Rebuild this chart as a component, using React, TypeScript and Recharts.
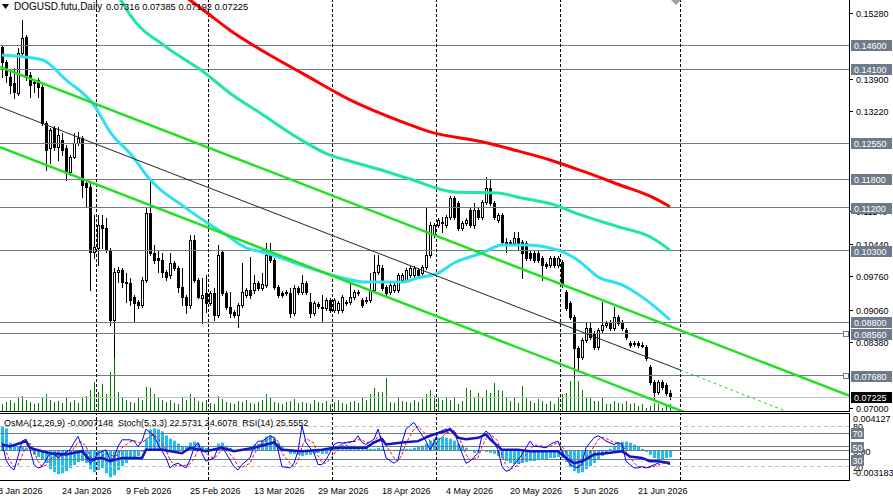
import React from 'react';
import { ComposedChart, Bar, Line, XAxis, YAxis, ReferenceLine, ReferenceDot } from 'recharts';

const FONT = '"Liberation Sans", Arial, sans-serif';
const WIDTH = 893;
const AXIS_W = 44;
const PLOT_W = WIDTH - AXIS_W;
const MAIN_H = 412;
const IND_TOP = 413;
const IND_H = 88;

const X_DOMAIN = [-0.5, 211.75];
const PRICE_DOMAIN = [0.06917, 0.15553];
const VOL_DOMAIN = [0, 412];
const OSMA_MAX = 0.004127;
const OSMA_MIN = -0.003183;
const OSMA_ZERO_PCT = ((0 - OSMA_MIN) / (OSMA_MAX - OSMA_MIN)) * 100;

// DOGUSD daily bars, 9 Jan 2026 .. 29 Jun 2026
const opens = [
  0.1457, 0.1425, 0.1394, 0.1381, 0.1360, 0.1444, 0.1478, 0.1398, 0.1383, 0.1388,
  0.1373, 0.1298, 0.1245, 0.1287, 0.1247, 0.1262, 0.1245, 0.1195, 0.1226, 0.1256,
  0.1266, 0.1172, 0.1163, 0.1027, 0.1036, 0.1084, 0.1077, 0.1031, 0.0885, 0.0985,
  0.0989, 0.0964, 0.0962, 0.0933, 0.0922, 0.0916, 0.0969, 0.1109, 0.1025, 0.1015,
  0.1010, 0.0985, 0.0979, 0.1004, 0.0994, 0.0954, 0.0933, 0.0916, 0.1052, 0.0969,
  0.0931, 0.0941, 0.0920, 0.0941, 0.0895, 0.1027, 0.0941, 0.0912, 0.0901, 0.0895,
  0.0916, 0.0937, 0.0948, 0.0948, 0.0962, 0.0952, 0.0958, 0.1021, 0.1010, 0.0954,
  0.0941, 0.0943, 0.0941, 0.0899, 0.0952, 0.0943, 0.0962, 0.0922, 0.0899, 0.0918,
  0.0912, 0.0910, 0.0927, 0.0906, 0.0906, 0.0906, 0.0920, 0.0922, 0.0933, 0.0941,
  0.0927, 0.0927, 0.0927, 0.0948, 0.0985, 0.0994, 0.0954, 0.0943, 0.0948, 0.0948,
  0.0969, 0.0969, 0.0979, 0.0979, 0.0989, 0.0983, 0.0996, 0.1021, 0.1063, 0.1084,
  0.1088, 0.1084, 0.1101, 0.1140, 0.1130, 0.1077, 0.1088, 0.1115, 0.1084, 0.1115,
  0.1101, 0.1132, 0.1161, 0.1130, 0.1094, 0.1105, 0.1048, 0.1048, 0.1046, 0.1056,
  0.1048, 0.1046, 0.1025, 0.1025, 0.1025, 0.1015, 0.1002, 0.1000, 0.1015, 0.1000,
  0.1006, 0.0943, 0.0920, 0.0891, 0.0826, 0.0807, 0.0843, 0.0868, 0.0857, 0.0828,
  0.0864, 0.0874, 0.0880, 0.0868, 0.0891, 0.0880, 0.0864, 0.0836, 0.0834, 0.0836,
  0.0832, 0.0828, 0.0786, 0.0755, 0.0734, 0.0755, 0.0748, 0.07316,
];
const highs = [
  0.1461, 0.1430, 0.1404, 0.1413, 0.1455, 0.1513, 0.1482, 0.1404, 0.1388, 0.1392,
  0.1377, 0.1302, 0.1287, 0.1291, 0.1289, 0.1277, 0.1251, 0.1230, 0.1277, 0.1279,
  0.1270, 0.1178, 0.1172, 0.1105, 0.1105, 0.1105, 0.1098, 0.1036, 0.0994, 0.0996,
  0.0994, 0.0983, 0.0973, 0.0937, 0.0927, 0.0975, 0.1119, 0.1178, 0.1042, 0.1031,
  0.1025, 0.0989, 0.1025, 0.1008, 0.0998, 0.0994, 0.0937, 0.1063, 0.1063, 0.0973,
  0.0973, 0.0979, 0.0945, 0.0952, 0.1042, 0.1031, 0.0945, 0.0943, 0.0906, 0.0920,
  0.1004, 0.0952, 0.1017, 0.0979, 0.0966, 0.0983, 0.1046, 0.1046, 0.1015, 0.0958,
  0.0945, 0.0948, 0.0952, 0.0958, 0.0956, 0.0979, 0.0966, 0.0941, 0.0924, 0.0922,
  0.0937, 0.0931, 0.0931, 0.0931, 0.0924, 0.0937, 0.0927, 0.0962, 0.0948, 0.0948,
  0.0931, 0.0933, 0.0983, 0.1021, 0.1021, 0.1000, 0.0958, 0.0962, 0.0962, 0.0983,
  0.0983, 0.0994, 0.0998, 0.0998, 0.0994, 0.1000, 0.1119, 0.1090, 0.1088, 0.1098,
  0.1101, 0.1105, 0.1145, 0.1145, 0.1134, 0.1092, 0.1098, 0.1119, 0.1130, 0.1119,
  0.1136, 0.1184, 0.1178, 0.1134, 0.1109, 0.1109, 0.1056, 0.1052, 0.1069, 0.1069,
  0.1052, 0.1050, 0.1029, 0.1029, 0.1029, 0.1019, 0.1006, 0.1019, 0.1019, 0.1019,
  0.1010, 0.0948, 0.0924, 0.0895, 0.0830, 0.0847, 0.0878, 0.0878, 0.0862, 0.0868,
  0.0922, 0.0883, 0.0885, 0.0912, 0.0895, 0.0885, 0.0868, 0.0841, 0.0841, 0.0841,
  0.0838, 0.0832, 0.0790, 0.0759, 0.0759, 0.0759, 0.0753, 0.07385,
];
const lows = [
  0.1394, 0.1383, 0.1360, 0.1350, 0.1356, 0.1440, 0.1388, 0.1352, 0.1362, 0.1352,
  0.1293, 0.1199, 0.1214, 0.1241, 0.1220, 0.1230, 0.1178, 0.1189, 0.1224, 0.1251,
  0.1142, 0.1121, 0.0948, 0.1015, 0.1000, 0.1036, 0.1027, 0.0874, 0.0807, 0.0964,
  0.0954, 0.0922, 0.0916, 0.0880, 0.0910, 0.0912, 0.0964, 0.1021, 0.1004, 0.0985,
  0.0975, 0.0969, 0.0973, 0.0989, 0.0943, 0.0916, 0.0899, 0.0910, 0.0964, 0.0931,
  0.0878, 0.0901, 0.0916, 0.0885, 0.0891, 0.0937, 0.0908, 0.0891, 0.0891, 0.0870,
  0.0912, 0.0933, 0.0931, 0.0941, 0.0948, 0.0948, 0.0954, 0.1006, 0.0950, 0.0933,
  0.0933, 0.0937, 0.0891, 0.0895, 0.0939, 0.0939, 0.0939, 0.0891, 0.0895, 0.0910,
  0.0880, 0.0906, 0.0901, 0.0901, 0.0899, 0.0901, 0.0916, 0.0918, 0.0929, 0.0937,
  0.0912, 0.0920, 0.0922, 0.0943, 0.0981, 0.0948, 0.0937, 0.0939, 0.0943, 0.0943,
  0.0964, 0.0964, 0.0975, 0.0975, 0.0975, 0.0979, 0.0992, 0.1017, 0.1059, 0.1080,
  0.1069, 0.1080, 0.1096, 0.1096, 0.1073, 0.1073, 0.1084, 0.1080, 0.1077, 0.1096,
  0.1096, 0.1128, 0.1126, 0.1096, 0.1090, 0.1044, 0.1027, 0.1042, 0.1042, 0.1031,
  0.0973, 0.1010, 0.1010, 0.1006, 0.1006, 0.0969, 0.0994, 0.0996, 0.0996, 0.0996,
  0.0954, 0.0906, 0.0887, 0.0765, 0.0780, 0.0803, 0.0838, 0.0845, 0.0824, 0.0824,
  0.0860, 0.0870, 0.0864, 0.0864, 0.0874, 0.0864, 0.0845, 0.0828, 0.0830, 0.0828,
  0.0828, 0.0801, 0.0750, 0.0717, 0.0730, 0.0740, 0.0727, 0.07192,
];
const closes = [
  0.1425, 0.1398, 0.1377, 0.1362, 0.1444, 0.1476, 0.1398, 0.1377, 0.1381, 0.1373,
  0.1298, 0.1241, 0.1283, 0.1247, 0.1272, 0.1241, 0.1195, 0.1226, 0.1256, 0.1266,
  0.1168, 0.1163, 0.1027, 0.1038, 0.1084, 0.1077, 0.1031, 0.0885, 0.0985, 0.0989,
  0.0964, 0.0962, 0.0927, 0.0920, 0.0916, 0.0969, 0.1109, 0.1025, 0.1010, 0.1010,
  0.0985, 0.0975, 0.1004, 0.0994, 0.0954, 0.0933, 0.0916, 0.1052, 0.0969, 0.0933,
  0.0937, 0.0920, 0.0941, 0.0895, 0.1021, 0.0941, 0.0912, 0.0899, 0.0895, 0.0916,
  0.0943, 0.0948, 0.0937, 0.0962, 0.0952, 0.0960, 0.1021, 0.1010, 0.0954, 0.0937,
  0.0937, 0.0941, 0.0899, 0.0952, 0.0943, 0.0962, 0.0943, 0.0899, 0.0920, 0.0914,
  0.0910, 0.0927, 0.0906, 0.0927, 0.0920, 0.0933, 0.0922, 0.0933, 0.0943, 0.0943,
  0.0916, 0.0926, 0.0948, 0.0985, 0.1000, 0.0952, 0.0941, 0.0958, 0.0958, 0.0979,
  0.0979, 0.0989, 0.0994, 0.0994, 0.0979, 0.0996, 0.1021, 0.1084, 0.1084, 0.1094,
  0.1090, 0.1101, 0.1140, 0.1101, 0.1077, 0.1088, 0.1094, 0.1084, 0.1115, 0.1101,
  0.1132, 0.1161, 0.1130, 0.1101, 0.1105, 0.1048, 0.1047, 0.1046, 0.1056, 0.1046,
  0.1025, 0.1015, 0.1015, 0.1010, 0.1010, 0.1000, 0.0998, 0.1015, 0.1000, 0.1015,
  0.0958, 0.0910, 0.0891, 0.0826, 0.0807, 0.0843, 0.0868, 0.0849, 0.0828, 0.0864,
  0.0874, 0.0878, 0.0868, 0.0891, 0.0878, 0.0868, 0.0849, 0.0832, 0.0836, 0.0832,
  0.0833, 0.0805, 0.0755, 0.0734, 0.0755, 0.0744, 0.0732, 0.07225,
];
const volumes = [
  8, 10, 12, 9, 14, 16, 12, 10, 8, 9, 14,
  18, 12, 10, 11, 9, 15, 10, 12, 9, 14, 16, 22,
  30, 20, 28, 18, 40, 54,
  20, 15, 12, 10, 9, 14, 12, 25, 24, 18, 14, 12,
  10, 12, 9, 8, 14, 12, 18, 15, 11, 10, 12, 9, 8, 16, 13, 10,
  9, 8, 11, 10, 12, 9, 8, 10, 12, 18, 14, 10, 9, 8, 10, 11, 13, 9, 10,
  9, 8, 12, 10, 9, 11, 8, 10, 12, 9, 8, 10, 11, 9, 14, 12, 18, 24, 20, 20,
  34, 10, 9, 14, 11, 10, 9, 12, 10, 13, 18, 22, 16, 14, 12, 15,
  12,
  14, 8, 11, 24, 22, 14, 19, 14, 22, 19, 29, 22, 21, 14, 11, 14, 9, 26, 14, 11,
  9, 13, 11, 8, 11, 8, 14, 18, 19, 31, 38, 31, 22, 14, 14, 11, 11, 14, 8, 8,
  11, 9, 8, 11, 8, 9, 6, 8, 4, 6, 9, 8, 4, 6, 8,
];
const osma = [
  0.00266, 0.00244, 0.00089, 0.00067, 0.00044, 0.00044, 0.00033, 0.00011, -0.00044, -0.00067,
  -0.00089, -0.00133, -0.0020, -0.00233, -0.00255, -0.00244, -0.00222, -0.00189, -0.00155, -0.00122,
  -0.00111, -0.00133, -0.0020, -0.00233, -0.00211, -0.00189, -0.00244, -0.00289, -0.00266, -0.00211,
  -0.00167, -0.00133, -0.0010, -0.00078, -0.00056, -0.00011, 0.00133, 0.00233, 0.00244, 0.00233,
  0.00211, 0.00167, 0.00133, 0.00111, 0.00078, 0.00056, 0.00044, 0.00089, 0.0010, 0.00078,
  0.00044, 0.00033, 0.00022, 0.00033, 0.00078, 0.00089, 0.00056, 0.00033, 0.00011, 0.00011,
  0.00011, 0.00022, 0.00033, 0.00067, 0.00078, 0.00111, 0.00155, 0.00167, 0.00133, 0.00089,
  0.00056, 0.00022, -0.00033, -0.00033, -0.00044, -0.00056, -0.00044, -0.00044, -0.00033, -0.00022,
  -0.00033, -0.00033, 0.00022, 0.00044, 0.00056, 0.00067, 0.00067, 0.00056, 0.00056, 0.00044,
  0.00044, 0.00033, 0.00022, 0.00022, 0.00033, 0.00022, 0.00011, 0.00011, 0.00011, 0.00011,
  0.00022, 0.00022, 0.00022, 0.00033, 0.00044, 0.00056, 0.00078, 0.00111, 0.00133, 0.00144,
  0.00155, 0.00144, 0.00133, 0.00111, 0.00078, 0.00056, 0.00033, 0.00011, -0.00022, -0.00011,
  0.00011, -0.00011, -0.00022, -0.00033, -0.00056, -0.00078, -0.00111, -0.00133, -0.00144, -0.00144,
  -0.00133, -0.00122, -0.00111, -0.00111, -0.0010, -0.0010, -0.00089, -0.00078, -0.00078, -0.00067,
  -0.00078, -0.00122, -0.00178, -0.00222, -0.00244, -0.00233, -0.0020, -0.00167, -0.00133, -0.0010,
  -0.00056, -0.00022, 0.00022, 0.00056, 0.00089, 0.0010, 0.0010, 0.00089, 0.00067, 0.00044,
  0.00022, -0.00011, -0.00044, -0.00078, -0.00089, -0.00089, -0.00078, -0.000715,
];

// moving averages, [bar, price]
const ma50 = [
  [0, 0.1440], [10, 0.1430], [16, 0.1388], [23, 0.1335], [27, 0.1279], [33, 0.1224], [36, 0.1189],
  [46, 0.1119], [56, 0.1063], [61, 0.1036], [66, 0.1025], [76, 0.0996], [85, 0.0973], [91, 0.0964],
  [100, 0.0964], [104, 0.0973], [109, 0.0983], [113, 0.1004], [120, 0.1025], [125, 0.1042], [131, 0.1042],
  [139, 0.1031], [144, 0.1010], [149, 0.0975], [155, 0.0958], [160, 0.0933], [167, 0.0885],
];
const ma100 = [
  [28, 0.1570], [30, 0.1551], [32, 0.1524], [41, 0.1457], [50, 0.1407], [57, 0.1360], [65, 0.1316],
  [74, 0.1266], [82, 0.1230], [86, 0.1220], [94, 0.1201], [102, 0.1180], [113, 0.1153], [124, 0.1151],
  [129, 0.1142], [138, 0.1126], [144, 0.1107], [154, 0.1080], [162, 0.1059], [167, 0.1031],
];
const ma200 = [
  [44, 0.1570], [47, 0.1555], [51, 0.1530], [57, 0.1492], [69, 0.1430], [75, 0.1402], [87, 0.1346],
  [100, 0.1300], [107, 0.1279], [120, 0.1258], [128, 0.1241], [137, 0.1220], [145, 0.1197],
  [155, 0.1166], [162, 0.1144], [167, 0.1122],
];

// trend channel anchors, [bar, price]
const channelUpper = [[-0.5, 0.1415], [211.75, 0.0726]];
const channelMid = [[-0.5, 0.1331], [169.5, 0.0780]];
const channelMidExt = [[169.5, 0.0780], [211.75, 0.0642]];
const channelLower = [[-0.5, 0.1247], [211.75, 0.0558]];

const levels = [0.146, 0.141, 0.1255, 0.118, 0.112, 0.103, 0.088, 0.0856, 0.0768];
const anchoredLevels = [0.0856, 0.0768];
const lastClose = 0.07225;
const priceTicks = [0.1528, 0.139, 0.1322, 0.1114, 0.1044, 0.0976, 0.0906, 0.0838, 0.07];

const monthStarts = [23.5, 51.5, 82.5, 108.5, 139.5, 169.5];
const dateTicks = [-1, 15, 31, 47, 63, 79, 95, 111, 127, 143, 159];
const dateLabels = [
  '8 Jan 2026', '24 Jan 2026', '9 Feb 2026', '25 Feb 2026', '13 Mar 2026', '29 Mar 2026',
  '18 Apr 2026', '4 May 2026', '20 May 2026', '5 Jun 2026', '21 Jun 2026',
];

// oscillators, [bar, value]
const stochMain = [
  [0, 56], [1, 30], [2, 20], [3, 15], [4, 35], [5, 58], [6, 61], [7, 45], [8, 23], [9, 18], [10, 20],
  [11, 30], [12, 40], [13, 38], [14, 33], [15, 38], [17, 45], [18, 56], [19, 65], [20, 50], [21, 33],
  [22, 25], [23, 30], [24, 40], [26, 45], [27, 30], [28, 33], [29, 50], [30, 60], [32, 60], [33, 58],
  [34, 50], [35, 58], [36, 76], [38, 66], [39, 53], [41, 33], [42, 18], [43, 23], [44, 25], [46, 18],
  [47, 30], [48, 48], [49, 56], [50, 40], [51, 28], [53, 33], [54, 48], [55, 50], [56, 40], [58, 20],
  [59, 15], [60, 23], [62, 33], [63, 50], [64, 58], [65, 58], [67, 66], [68, 63], [69, 45], [70, 20],
  [72, 18], [73, 25], [74, 43], [75, 81], [76, 56], [78, 40], [79, 23], [80, 23], [81, 30], [83, 53],
  [84, 56], [85, 55], [86, 56], [88, 58], [89, 66], [90, 56], [91, 53], [93, 61], [94, 76], [95, 56],
  [96, 33], [98, 25], [99, 30], [100, 56], [101, 76], [103, 86], [104, 76], [106, 58], [107, 45],
  [108, 56], [109, 71], [111, 76], [113, 73], [114, 56], [115, 40], [116, 25], [117, 28], [119, 40],
  [120, 66], [121, 73], [122, 68], [124, 45], [125, 20], [126, 13], [127, 15], [129, 30], [130, 38],
  [132, 58], [133, 50], [134, 50], [136, 48], [137, 53], [138, 56], [139, 58], [140, 43], [142, 23],
  [143, 20], [144, 18], [145, 25], [146, 48], [148, 63], [149, 66], [150, 63], [151, 58], [153, 53],
  [154, 56], [155, 53], [156, 28], [158, 18], [159, 18], [160, 20], [161, 18], [162, 20], [164, 25],
  [165, 28], [167, 22.57],
];
const stochSignal = [
  [0, 45], [1, 42], [2, 28], [3, 20], [4, 22], [5, 36], [6, 50], [7, 55], [8, 42], [9, 28], [10, 20],
  [11, 22], [12, 30], [13, 36], [14, 37], [15, 36], [17, 40], [18, 48], [19, 56], [20, 57], [21, 50],
  [22, 36], [23, 29], [24, 32], [26, 40], [27, 38], [28, 35], [29, 38], [30, 48], [32, 57], [33, 59],
  [34, 56], [35, 55], [36, 61], [38, 68], [39, 62], [41, 45], [42, 30], [43, 23], [44, 21], [46, 22],
  [47, 24], [48, 32], [49, 45], [50, 48], [51, 40], [53, 32], [54, 38], [55, 45], [56, 46], [58, 32],
  [59, 20], [60, 19], [62, 25], [63, 38], [64, 48], [65, 56], [67, 62], [68, 64], [69, 58], [70, 40],
  [72, 25], [73, 20], [74, 28], [75, 50], [76, 62], [78, 55], [79, 36], [80, 26], [81, 25], [83, 38],
  [84, 48], [85, 55], [86, 55], [88, 57], [89, 60], [90, 60], [91, 56], [93, 57], [94, 65], [95, 64],
  [96, 52], [98, 33], [99, 28], [100, 38], [101, 55], [103, 76], [104, 80], [106, 68], [107, 58],
  [108, 52], [109, 58], [111, 70], [113, 74], [114, 66], [115, 53], [116, 38], [117, 30], [119, 33],
  [120, 50], [121, 62], [122, 69], [124, 58], [125, 36], [126, 22], [127, 16], [129, 22], [130, 30],
  [132, 45], [133, 52], [134, 52], [136, 49], [137, 50], [138, 53], [139, 56], [140, 50], [142, 33],
  [143, 24], [144, 20], [145, 21], [146, 33], [148, 50], [149, 60], [150, 64], [151, 62], [153, 56],
  [154, 55], [155, 54], [156, 42], [158, 26], [159, 20], [160, 19], [161, 19], [162, 19], [164, 22],
  [165, 25], [167, 24.61],
];
const rsi = [
  [0, 53], [2, 50], [5, 56], [6, 58], [7, 48], [10, 43], [12, 40], [16, 38], [20, 43], [22, 30],
  [25, 33], [27, 28], [30, 33], [35, 33], [36, 45], [40, 45], [45, 40], [47, 48], [51, 43], [55, 48],
  [58, 43], [63, 48], [66, 53], [68, 56], [70, 45], [75, 43], [80, 45], [83, 48], [87, 48], [91, 48],
  [93, 56], [95, 61], [96, 53], [100, 56], [104, 58], [107, 66], [109, 70], [111, 73], [112, 76],
  [114, 63], [116, 61], [119, 63], [121, 68], [122, 61], [125, 45], [129, 45], [132, 43], [137, 43],
  [139, 43], [141, 33], [143, 25], [145, 28], [148, 38], [151, 40], [155, 43], [157, 35], [160, 33],
  [162, 28], [164, 28], [167, 25.56],
];

const bars = opens.map((o, i) => ({
  i,
  open: o,
  high: highs[i],
  low: lows[i],
  close: closes[i],
  vol: volumes[i],
  osma: osma[i],
}));
const pts = (a: number[][]) => a.map(([i, v]) => ({ i, v }));

const LEVEL_GRAY = '#6d7b8a';

const Candle = (props: any) => {
  const { x, y, width, height, payload } = props;
  if (!payload) return null;
  const { open, close, high, low } = payload;
  const top = Math.min(y, y + height);
  const h = Math.abs(height);
  const span = high - low || 1;
  const py = (v: number) => top + ((high - v) / span) * h;
  const cx = Math.round(x + width / 2);
  const yo = py(open);
  const yc = py(close);
  const bTop = Math.round(Math.min(yo, yc));
  const bBot = Math.round(Math.max(yo, yc));
  const bull = close >= open;
  return (
    <g>
      <line x1={cx + 0.5} x2={cx + 0.5} y1={Math.round(top)} y2={Math.round(top + h) + 1} stroke="#000" strokeWidth={1} />
      <rect
        x={cx - 0.5}
        y={bTop + 0.5}
        width={2}
        height={Math.max(bBot - bTop, 1)}
        fill={bull ? '#fff' : '#000'}
        stroke="#000"
        strokeWidth={1}
      />
    </g>
  );
};

const VolumeStick = (props: any) => {
  const { x, y, width, height } = props;
  if (!height) return null;
  const top = Math.min(y, y + height);
  return <rect x={Math.round(x + width / 2)} y={top} width={1} height={Math.abs(height)} fill="#008000" />;
};

const OsmaBar = (props: any) => {
  const { x, y, width, height } = props;
  const top = Math.min(y, y + height);
  const cx = Math.round(x + width / 2);
  return <rect x={cx - 1} y={top} width={3} height={Math.max(Math.abs(height), 1)} fill="#22bdf2" />;
};

const PriceTick = (props: any) => {
  const { y, payload } = props;
  const v = payload.value;
  const yy = Math.round(y);
  const txt = v.toFixed(5);
  if (v === lastClose) {
    return (
      <g>
        <rect x={PLOT_W + 2} y={yy - 5} width={41} height={11} fill="#000" />
        <text x={PLOT_W + 5} y={yy + 3.5} fill="#fff" fontSize={9} fontFamily={FONT}>{txt}</text>
      </g>
    );
  }
  if (levels.includes(v)) {
    return (
      <g>
        <rect x={PLOT_W + 2} y={yy - 5} width={41} height={11} fill={LEVEL_GRAY} />
        <text x={PLOT_W + 5} y={yy + 3.5} fill="#fff" fontSize={9} fontFamily={FONT}>{txt}</text>
      </g>
    );
  }
  return (
    <g>
      <line x1={PLOT_W} x2={PLOT_W + 4} y1={yy + 0.5} y2={yy + 0.5} stroke="#000" />
      <text x={PLOT_W + 7} y={yy + 3.5} fill="#000" fontSize={9} fontFamily={FONT}>{txt}</text>
    </g>
  );
};

const indBoxLevels = [70, 50, 30];

const IndTick = (props: any) => {
  const { y, payload } = props;
  const v = payload.value;
  const yy = Math.round(y);
  const tx = PLOT_W + 4;
  if (indBoxLevels.includes(v)) {
    return (
      <g>
        <rect x={PLOT_W + 2} y={yy - 5} width={13} height={11} fill={LEVEL_GRAY} />
        <text x={PLOT_W + 3.5} y={yy + 3.5} fill="#fff" fontSize={9} fontFamily={FONT}>{v}</text>
      </g>
    );
  }
  let label = String(v);
  let dy = 3.5;
  if (v === 100) { label = OSMA_MAX.toFixed(6); dy = 9; }
  else if (v === 0) { label = OSMA_MIN.toFixed(6); dy = -4; }
  else if (v === OSMA_ZERO_PCT) { label = '0.00'; dy = 4; }
  return (
    <text x={tx} y={yy + dy} fill="#000" fontSize={9} fontFamily={FONT}>{label}</text>
  );
};

const DateTick = (props: any) => {
  const { x, payload } = props;
  const idx = dateTicks.indexOf(payload.value);
  return (
    <text x={x} y={80.5} fill="#000" fontSize={9} fontFamily={FONT} textAnchor="start">
      {dateLabels[idx]}
    </text>
  );
};

const AnchorSquare = (props: any) => {
  const { cx, cy } = props;
  return <rect x={Math.round(cx) - 2.5} y={Math.round(cy) - 2.5} width={5} height={5} fill="#fff" stroke={LEVEL_GRAY} />;
};

const hLine = (style: any) => <div style={{ position: 'absolute', height: 1, background: '#000', ...style }} />;

export default function App() {
  return (
    <div
      style={{
        position: 'absolute',
        left: 0,
        top: 0,
        width: WIDTH,
        height: 501,
        background: '#fff',
        overflow: 'hidden',
        fontFamily: FONT,
        color: '#000',
      }}
    >
      <div style={{ position: 'absolute', left: 0, top: 0 }}>
        <ComposedChart width={WIDTH} height={MAIN_H} data={bars} margin={{ top: 0, right: 0, bottom: 0, left: 0 }}>
          <XAxis xAxisId="x" type="number" dataKey="i" domain={X_DOMAIN} allowDataOverflow hide />
          <XAxis xAxisId="xv" type="number" dataKey="i" domain={X_DOMAIN} allowDataOverflow hide />
          <YAxis
            yAxisId="p"
            orientation="right"
            width={AXIS_W}
            domain={PRICE_DOMAIN}
            allowDataOverflow
            ticks={[...priceTicks, ...levels, lastClose]}
            interval={0}
            tick={(p: any) => <PriceTick {...p} />}
            axisLine={false}
            tickLine={false}
          />
          <YAxis yAxisId="v" domain={VOL_DOMAIN} hide />

          <Bar xAxisId="xv" yAxisId="v" dataKey="vol" barSize={1} shape={VolumeStick} isAnimationActive={false} />

          {levels.map((l) => (
            <ReferenceLine key={l} xAxisId="x" yAxisId="p" y={l} stroke={LEVEL_GRAY} strokeWidth={1} shapeRendering="crispEdges" />
          ))}
          <ReferenceLine xAxisId="x" yAxisId="p" y={lastClose} stroke="#c0c0c0" strokeWidth={1} shapeRendering="crispEdges" />
          {monthStarts.map((m) => (
            <ReferenceLine key={m} xAxisId="x" yAxisId="p" x={m} stroke="#000" strokeDasharray="3 2" shapeRendering="crispEdges" />
          ))}
          {anchoredLevels.map((l) => (
            <ReferenceDot key={l} xAxisId="x" yAxisId="p" x={211.1} y={l} shape={AnchorSquare} />
          ))}

          <Line xAxisId="x" yAxisId="p" data={pts(ma200)} dataKey="v" type="monotone" stroke="#ff0000" strokeWidth={3} dot={false} isAnimationActive={false} />
          <Line xAxisId="x" yAxisId="p" data={pts(ma100)} dataKey="v" type="monotone" stroke="#1ee8a0" strokeWidth={3} dot={false} isAnimationActive={false} />
          <Line xAxisId="x" yAxisId="p" data={pts(ma50)} dataKey="v" type="monotone" stroke="#30e0f2" strokeWidth={3} dot={false} isAnimationActive={false} />

          <Line xAxisId="x" yAxisId="p" data={pts(channelUpper)} dataKey="v" type="linear" stroke="#22e022" strokeWidth={2.5} dot={false} isAnimationActive={false} />
          <Line xAxisId="x" yAxisId="p" data={pts(channelLower)} dataKey="v" type="linear" stroke="#22e022" strokeWidth={2.5} dot={false} isAnimationActive={false} />
          <Line xAxisId="x" yAxisId="p" data={pts(channelMid)} dataKey="v" type="linear" stroke="#1a2a1a" strokeWidth={1} dot={false} isAnimationActive={false} />
          <Line xAxisId="x" yAxisId="p" data={pts(channelMidExt)} dataKey="v" type="linear" stroke="#22dd22" strokeWidth={1} strokeDasharray="3 3" dot={false} isAnimationActive={false} />

          <Bar xAxisId="x" yAxisId="p" dataKey={(d: any) => [d.low, d.high]} barSize={3} shape={Candle} isAnimationActive={false} />
        </ComposedChart>
      </div>

      <div style={{ position: 'absolute', left: 0, top: IND_TOP }}>
        <ComposedChart width={WIDTH} height={IND_H} data={bars} margin={{ top: 0, right: 0, bottom: 0, left: 0 }}>
          <XAxis
            xAxisId="x"
            type="number"
            dataKey="i"
            domain={X_DOMAIN}
            allowDataOverflow
            ticks={dateTicks}
            interval={0}
            tick={(p: any) => <DateTick {...p} />}
            axisLine={false}
            tickLine={false}
            height={21}
          />
          <YAxis
            yAxisId="s"
            orientation="right"
            width={AXIS_W}
            domain={[0, 100]}
            allowDataOverflow
            ticks={[100, 80, 20, OSMA_ZERO_PCT, 0, 70, 50, 30]}
            interval={0}
            tick={(p: any) => <IndTick {...p} />}
            axisLine={false}
            tickLine={false}
          />
          <YAxis yAxisId="o" domain={[OSMA_MIN, OSMA_MAX]} allowDataOverflow hide />

          <Bar xAxisId="x" yAxisId="o" dataKey="osma" barSize={3} shape={OsmaBar} isAnimationActive={false} />

          <ReferenceLine xAxisId="x" yAxisId="s" y={80} stroke="#c0c0c0" strokeDasharray="4 3" shapeRendering="crispEdges" />
          <ReferenceLine xAxisId="x" yAxisId="s" y={20} stroke="#c0c0c0" strokeDasharray="4 3" shapeRendering="crispEdges" />
          {indBoxLevels.map((l) => (
            <ReferenceLine key={l} xAxisId="x" yAxisId="s" y={l} stroke={LEVEL_GRAY} shapeRendering="crispEdges" />
          ))}
          <ReferenceLine xAxisId="x" yAxisId="o" y={0} stroke={LEVEL_GRAY} shapeRendering="crispEdges" />
          {monthStarts.map((m) => (
            <ReferenceLine key={m} xAxisId="x" yAxisId="s" x={m} stroke="#000" strokeDasharray="3 2" shapeRendering="crispEdges" />
          ))}

          <Line xAxisId="x" yAxisId="s" data={pts(stochSignal)} dataKey="v" type="linear" stroke="#ff0000" strokeWidth={1} strokeDasharray="3 2" dot={false} isAnimationActive={false} />
          <Line xAxisId="x" yAxisId="s" data={pts(stochMain)} dataKey="v" type="linear" stroke="#0000ff" strokeWidth={1} dot={false} isAnimationActive={false} />
          <Line xAxisId="x" yAxisId="s" data={pts(rsi)} dataKey="v" type="linear" stroke="#1414c4" strokeWidth={2.5} dot={false} isAnimationActive={false} />
        </ComposedChart>
      </div>

      {hLine({ left: 0, top: 411, width: PLOT_W + 1 })}
      {hLine({ left: 0, top: IND_TOP, width: PLOT_W + 1 })}
      {hLine({ left: 0, top: 480, width: PLOT_W + 1 })}
      <div style={{ position: 'absolute', left: PLOT_W, top: 0, width: 1, height: 412, background: '#000' }} />
      <div style={{ position: 'absolute', left: PLOT_W, top: IND_TOP, width: 1, height: 68, background: '#000' }} />

      <svg style={{ position: 'absolute', left: 0, top: 0 }} width={WIDTH} height={12}>
        <polygon points="2,4 9,4 5.5,9" fill="#000" />
        <polygon points="671,0 681,0 676,5" fill="#a0a0a0" />
      </svg>
      <div style={{ position: 'absolute', left: 14, top: 1, fontSize: 10, lineHeight: '12px', whiteSpace: 'pre' }}>
        DOGUSD.futu,Daily
      </div>
      <div style={{ position: 'absolute', left: 106, top: 1, fontSize: 9.3, lineHeight: '12px', whiteSpace: 'pre' }}>
        0.07316 0.07385 0.07192 0.07225
      </div>
      <div style={{ position: 'absolute', left: 4, top: 418, fontSize: 9, lineHeight: '10px', whiteSpace: 'pre' }}>
        OsMA(12,26,9) -0.0007148  Stoch(5,3,3) 22.5731 24.6078  RSI(14) 25.5552
      </div>
    </div>
  );
}
